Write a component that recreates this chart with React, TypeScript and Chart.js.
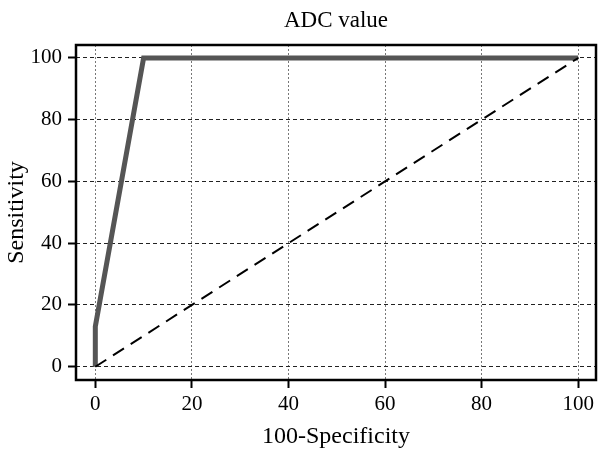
import React, { useEffect, useRef } from 'react';
import { Chart, registerables } from 'chart.js';
Chart.register(...registerables);

const chartTitle = 'ADC value';
const xLabel = '100-Specificity';
const yLabel = 'Sensitivity';
const rocX = [0, 0, 10, 100];
const rocY = [0, 13, 100, 100];
const refX = [0, 100];
const refY = [0, 100];
const tickValues = [0, 20, 40, 60, 80, 100];

export default function App() {
  const ref = useRef<HTMLCanvasElement>(null);
  useEffect(() => {
    if (!ref.current) return;
    const frame = {
      id: 'frame',
      afterDraw(chart: any) {
        const { ctx, chartArea: { left, top, right, bottom } } = chart;
        ctx.save();
        ctx.strokeStyle = '#000';
        ctx.lineWidth = 2.5;
        ctx.strokeRect(left, top, right - left, bottom - top);
        ctx.restore();
      },
    };
    const font = "'Liberation Serif', 'Times New Roman', serif";
    const chart = new Chart(ref.current, {
      type: 'scatter',
      data: {
        datasets: [
          {
            data: refX.map((x, i) => ({ x, y: refY[i] })),
            showLine: true,
            borderColor: '#000',
            borderWidth: 2,
            borderDash: [13, 8],
            pointRadius: 0,
          },
          {
            data: rocX.map((x, i) => ({ x, y: rocY[i] })),
            showLine: true,
            borderColor: '#555',
            borderWidth: 5,
            pointRadius: 0,
          },
        ],
      },
      options: {
        animation: false,
        responsive: false,
        layout: { padding: { left: 0, right: 3, top: 0, bottom: 0 } },
        plugins: {
          legend: { display: false },
          tooltip: { enabled: false },
          title: {
            display: true,
            fullSize: false,
            text: chartTitle,
            color: '#000',
            font: { family: font, size: 23, weight: 'normal' },
            padding: { top: 7, bottom: 10.4 },
          },
        },
        scales: {
          x: {
            type: 'linear',
            min: -4,
            max: 103.7,
            afterBuildTicks: (s: any) => { s.ticks = tickValues.map((v) => ({ value: v })); },
            afterFit: (s: any) => { s.height = 71; },
            grid: { color: '#777', lineWidth: 1, tickColor: '#000', tickLength: 8, tickWidth: 2 },
            border: { display: false, dash: [2, 2] },
            ticks: { padding: 4, color: '#000', font: { family: font, size: 21 }, maxRotation: 0 },
            title: { display: true, text: xLabel, color: '#000', font: { family: font, size: 24 }, padding: { top: 0, bottom: 0 } },
          },
          y: {
            type: 'linear',
            min: -4.3,
            max: 104.2,
            afterBuildTicks: (s: any) => { s.ticks = tickValues.map((v) => ({ value: v })); },
            afterFit: (s: any) => { s.width = 76; },
            grid: { color: '#222', lineWidth: 1, tickColor: '#000', tickLength: 8, tickWidth: 2 },
            border: { display: false, dash: [4, 3] },
            ticks: { padding: 6, color: '#000', font: { family: font, size: 21 } },
            title: { display: true, text: yLabel, color: '#000', font: { family: font, size: 24 }, padding: { top: 2, bottom: 0 } },
          },
        },
      },
      plugins: [frame],
    });
    return () => chart.destroy();
  }, []);
  return (
    <canvas
      ref={ref}
      width={599}
      height={451}
      style={{ position: 'fixed', left: 0, top: 0, width: 599, height: 451, display: 'block', background: '#fff' }}
    />
  );
}
